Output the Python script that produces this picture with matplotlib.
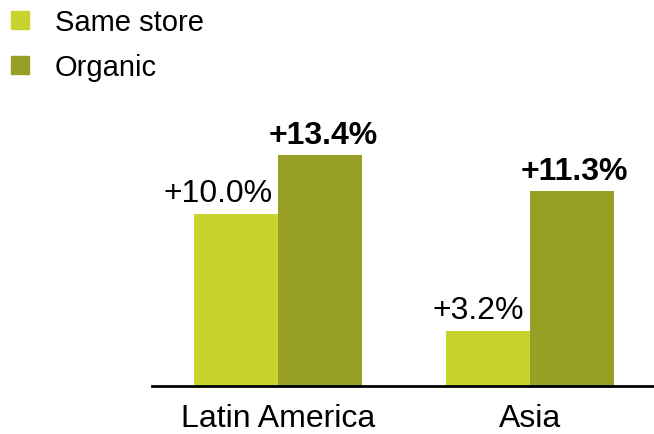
import matplotlib.pyplot as plt
from matplotlib.lines import Line2D
import numpy as np

plt.rcParams['font.family'] = ['Liberation Sans', 'DejaVu Sans']

regions = ["Latin America", "Asia"]
same_store = [10.0, 3.2]
organic = [13.4, 11.3]
same_labels = ["+10.0%", "+3.2%"]
organic_labels = ["+13.4%", "+11.3%"]

c_light = '#C8D32E'
c_dark = '#97A024'

fig = plt.figure(figsize=(6.54, 4.35), dpi=100)
ax = fig.add_axes([152/654, 48/435, 502/654, 275.5/435])

x = np.arange(len(regions))
w = 1/3
b1 = ax.bar(x - w/2, same_store, w, color=c_light)
b2 = ax.bar(x + w/2, organic, w, color=c_dark)

# etiquetas de valores
for rect, txt in zip(b1, same_labels):
    ax.annotate(txt, (rect.get_x() + rect.get_width(), rect.get_height()),
                xytext=(-4, 9), textcoords='offset points',
                ha='right', va='baseline', fontsize=23)
for rect, txt in zip(b2, organic_labels):
    ax.annotate(txt, (rect.get_x() + rect.get_width()/2, rect.get_height()),
                xytext=(2, 9), textcoords='offset points',
                ha='center', va='baseline', fontsize=23, fontweight='bold')

ax.set_xlim(-0.5, 1.492)
ax.set_ylim(0, 16)
ax.set_xticks(x)
ax.set_xticklabels(regions, fontsize=23)
ax.tick_params(axis='x', length=0, pad=12)
ax.set_yticks([])
for s in ['top', 'right', 'left']:
    ax.spines[s].set_visible(False)
ax.spines['bottom'].set_linewidth(2)
ax.spines['bottom'].set_color('black')

handles = [Line2D([], [], marker='s', ls='none', ms=12.5, color=c_light),
           Line2D([], [], marker='s', ls='none', ms=12.5, color=c_dark)]
fig.legend(handles, ["Same store", "Organic"], loc='upper left',
           bbox_to_anchor=(6/654, 1 - 9/435), frameon=False, fontsize=21,
           handlelength=0.95, handletextpad=0.72, labelspacing=0.6,
           borderpad=0, borderaxespad=0)

fig.savefig('out.png', dpi=100)
